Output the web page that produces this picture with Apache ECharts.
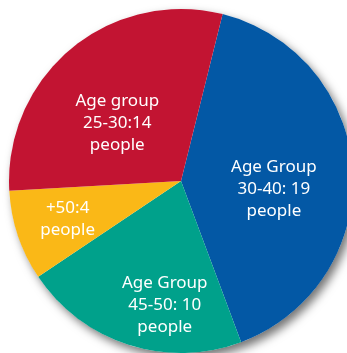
<!DOCTYPE html>
<html><head><meta charset="utf-8">
<script src="https://cdn.jsdelivr.net/npm/echarts@6/dist/echarts.min.js"></script>
<style>html,body{margin:0;padding:0;background:#fff;}#c{width:347px;height:353px;}</style>
</head><body><div id="c"></div>
<script>
const names = ['Age Group\n30-40: 19\npeople', 'Age Group\n45-50: 10\npeople', '+50:4\npeople', 'Age group\n25-30:14\npeople'];
const values = [19, 10, 4, 14];
const colors = ['#0358A5', '#00A18B', '#FAB817', '#C21432'];
const labelOffsets = [[4, 13], [11, 39], [-29, 10], [-7, 11]];

const chart = echarts.init(document.getElementById('c'));
chart.setOption({
  animation: false,
  series: [
    {
      type: 'pie', silent: true, center: [181, 181], radius: 172, z: 1,
      label: {show: false}, labelLine: {show: false},
      data: [{value: 1, itemStyle: {color: '#ffffff', shadowBlur: 10, shadowOffsetX: 4, shadowOffsetY: 5, shadowColor: 'rgba(0,0,0,0.55)'}}]
    },
    {
      type: 'pie', center: [181, 181], radius: 172, startAngle: 76, clockwise: true, z: 2,
      itemStyle: {borderWidth: 0},
      label: {position: 'inside', color: '#fff', fontFamily: 'Noto Sans', fontSize: 17, lineHeight: 22, align: 'center'},
      labelLine: {show: false},
      data: values.map((v, i) => ({
        value: v, name: names[i],
        itemStyle: {color: colors[i]},
        label: {offset: labelOffsets[i]}
      }))
    }
  ]
});
</script></body></html>
